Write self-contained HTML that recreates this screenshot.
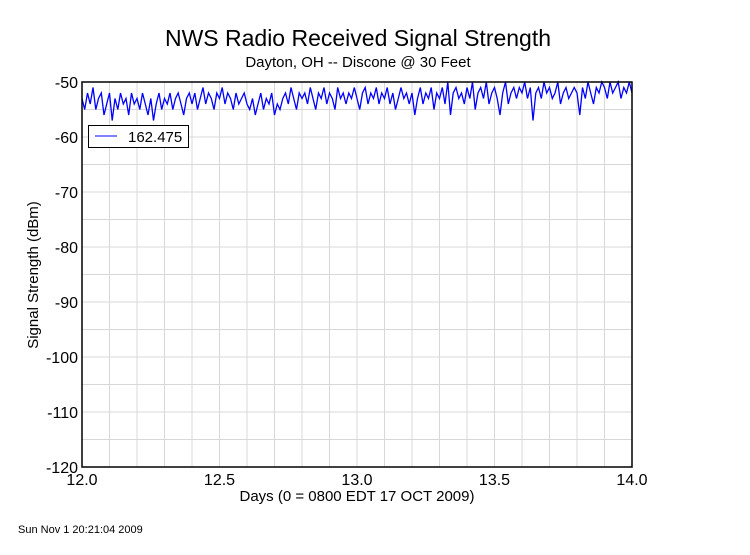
<!DOCTYPE html>
<html><head><meta charset="utf-8"><style>
body{margin:0;background:#fff;width:750px;height:550px;overflow:hidden;font-family:"Liberation Sans",sans-serif}
</style></head><body>
<svg id="chart" width="750" height="550" xmlns="http://www.w3.org/2000/svg" font-family="Liberation Sans, sans-serif">
<rect width="750" height="550" fill="#fff"/>
<text x="358" y="46" font-size="23" text-anchor="middle">NWS Radio Received Signal Strength</text>
<text x="358" y="67" font-size="15" text-anchor="middle">Dayton, OH -- Discone @ 30 Feet</text>
<g id="grid"></g>
<g id="ticks"></g>
<polyline id="series" fill="none" stroke="#0000ff" stroke-width="1.3"/>
<rect x="82" y="82" width="550" height="385" fill="none" stroke="#000" stroke-width="1.5"/>
<g>
<rect x="88.5" y="125.5" width="100" height="22" fill="#fff" stroke="#000"/>
<line x1="95" y1="136" x2="117" y2="136" stroke="#0000ff"/>
<text x="128" y="142" font-size="15">162.475</text>
</g>
<text x="357" y="501" font-size="15" text-anchor="middle">Days (0 = 0800 EDT 17 OCT 2009)</text>
<text transform="translate(38,275) rotate(-90)" font-size="15" text-anchor="middle">Signal Strength (dBm)</text>
<text x="18" y="533" font-size="11">Sun Nov  1 20:21:04 2009</text>
</svg>
<script>
const xTicks=[12.0,12.5,13.0,13.5,14.0];
const xTickLabels=["12.0","12.5","13.0","13.5","14.0"];
const yTicks=[-50,-60,-70,-80,-90,-100,-110,-120];
const yTickLabels=["-50","-60","-70","-80","-90","-100","-110","-120"];
const startDay=12.0;
const stepDay=0.01;
const signal=[-53,-55,-52,-54,-51,-55,-53,-52,-56,-54,
-52,-57,-53,-55,-52,-54,-53,-56,-52,-54,
-53,-55,-52,-54,-56,-53,-57,-54,-52,-55,
-53,-54,-52,-55,-53,-52,-54,-56,-53,-52,
-54,-52,-55,-53,-51,-54,-52,-53,-55,-52,
-53,-51,-54,-52,-53,-55,-52,-54,-53,-52,
-54,-55,-53,-56,-54,-52,-55,-53,-54,-52,
-56,-54,-55,-53,-52,-54,-51,-53,-55,-52,
-53,-52,-54,-51,-53,-55,-52,-53,-51,-54,
-52,-53,-55,-51,-53,-52,-54,-52,-53,-51,
-53,-55,-52,-51,-54,-52,-53,-51,-54,-52,
-53,-51,-54,-52,-55,-53,-51,-53,-52,-54,
-52,-56,-53,-51,-54,-52,-53,-51,-55,-52,
-53,-51,-54,-50,-56,-52,-51,-53,-52,-54,
-51,-53,-50,-55,-52,-51,-53,-50,-54,-52,
-51,-53,-56,-52,-50,-54,-52,-51,-53,-51,
-52,-50,-53,-51,-57,-52,-51,-53,-50,-52,
-51,-53,-52,-50,-54,-52,-51,-53,-52,-51,
-52,-56,-51,-53,-50,-52,-54,-51,-52,-50,
-51,-53,-50,-52,-51,-50,-53,-51,-52,-50,-52];
const X0=82,X1=632,Y0=82,Y1=467,xMin=12,xMax=14,yMin=-120,yMax=-50;
const sx=d=>X0+(d-xMin)/(xMax-xMin)*(X1-X0);
const sy=v=>Y1-(v-yMin)/(yMax-yMin)*(Y1-Y0);
const NS="http://www.w3.org/2000/svg";
const grid=document.getElementById('grid'),ticks=document.getElementById('ticks');
for(let i=1;i<20;i++){const d=xMin+i*0.1;const l=document.createElementNS(NS,'line');


l.setAttribute('x1',sx(d));l.setAttribute('x2',sx(d));l.setAttribute('y1',Y0);l.setAttribute('y2',Y1);l.setAttribute('stroke','#d8d8d8');grid.appendChild(l);}
for(let v=yMin+5;v<yMax;v+=5){const l=document.createElementNS(NS,'line');


l.setAttribute('x1',X0);l.setAttribute('x2',X1);l.setAttribute('y1',sy(v));l.setAttribute('y2',sy(v));l.setAttribute('stroke','#d8d8d8');grid.appendChild(l);}
xTicks.forEach((d,i)=>{const t=document.createElementNS(NS,'text');


t.setAttribute('x',sx(d));t.setAttribute('y',485);t.setAttribute('font-size','16');t.setAttribute('text-anchor','middle');t.textContent=xTickLabels[i];ticks.appendChild(t);});
yTicks.forEach((v,i)=>{const t=document.createElementNS(NS,'text');


t.setAttribute('x',78);t.setAttribute('y',sy(v)+6);t.setAttribute('font-size','16');t.setAttribute('text-anchor','end');t.textContent=yTickLabels[i];ticks.appendChild(t);});
document.getElementById('series').setAttribute('points',signal.map((v,i)=>sx(startDay+i*stepDay).toFixed(1)+','+sy(v).toFixed(1)).join(' '));
</script>
</body></html>
